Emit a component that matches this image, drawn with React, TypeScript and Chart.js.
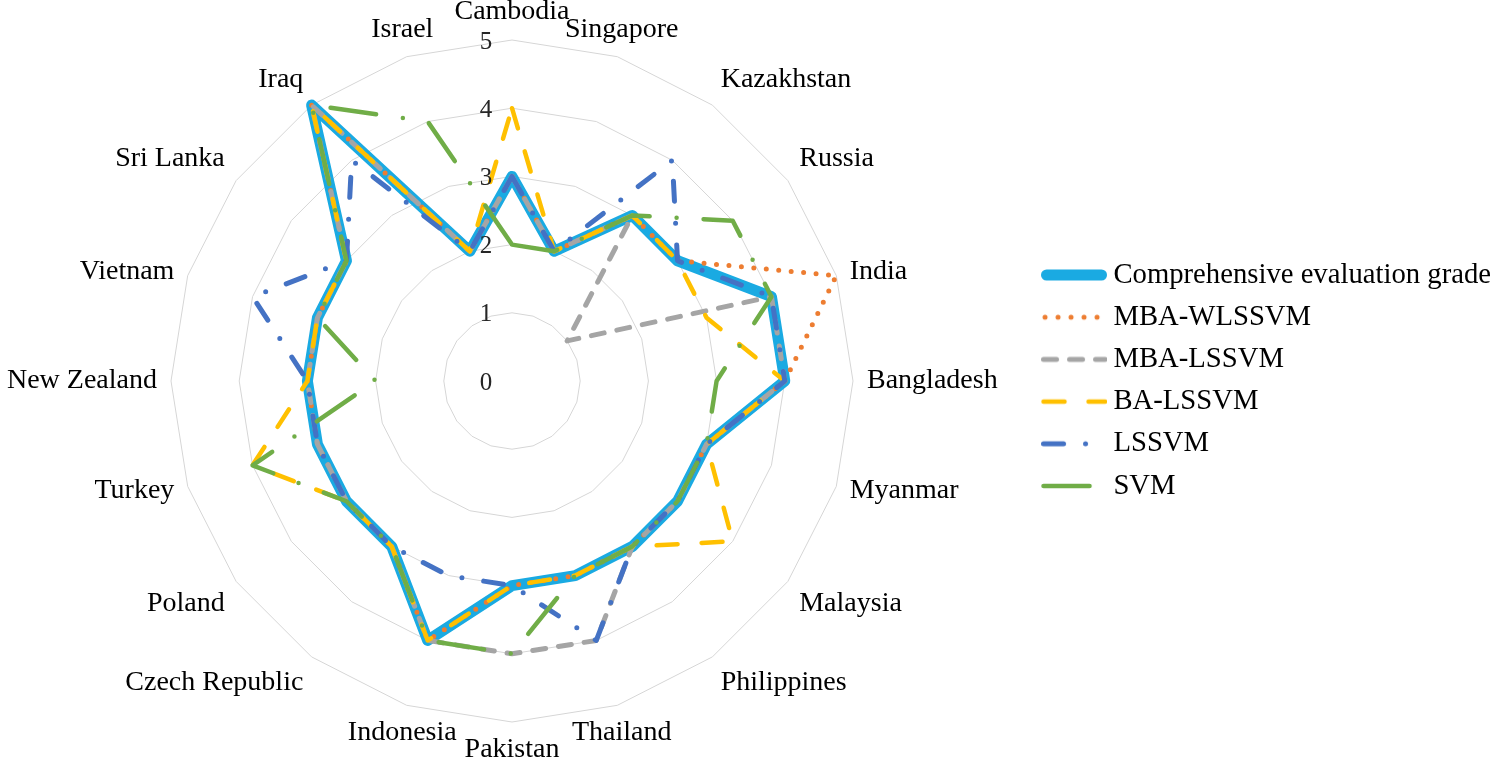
import React, { useEffect, useRef } from 'react';
import { Chart, registerables } from 'chart.js';

Chart.register(...registerables);

const categories = [
  'Cambodia', 'Singapore', 'Kazakhstan', 'Russia', 'India', 'Bangladesh', 'Myanmar',
  'Malaysia', 'Philippines', 'Thailand', 'Pakistan', 'Indonesia', 'Czech Republic',
  'Poland', 'Turkey', 'New Zealand', 'Vietnam', 'Sri Lanka', 'Iraq', 'Israel',
];

const comprehensiveGrade = [3, 2, 3, 3, 4, 4, 3, 3, 3, 3, 3, 4, 3, 3, 3, 3, 3, 3, 5, 2];
const mbaWlssvm = [3, 2, 3, 3, 5, 4, 3, 3, 3, 3, 3, 4, 3, 3, 3, 3, 3, 3, 5, 2];
const mbaLssvm = [3, 2, 3, 1, 4, 4, 3, 3, 3, 4, 4, 4, 3, 3, 3, 3, 3, 3, 5, 2];
const baLssvm = [4, 2, 3, 3, 3, 4, 3, 4, 3, 3, 3, 4, 3, 3, 4, 3, 3, 3, 5, 2];
const lssvm = [3, 2, 4, 3, 4, 4, 3, 3, 3, 4, 3, 3, 3, 3, 3, 3, 4, 3, 4, 2];
const svm = [2, 2, 3, 4, 4, 3, 3, 3, 3, 3, 4, 4, 3, 3, 4, 2, 3, 3, 5, 4];

const seriesNames = ['Comprehensive evaluation grade', 'MBA-WLSSVM', 'MBA-LSSVM', 'BA-LSSVM', 'LSSVM', 'SVM'];
const seriesValues = [comprehensiveGrade, mbaWlssvm, mbaLssvm, baLssvm, lssvm, svm];
const tickLabels = ['0', '1', '2', '3', '4', '5'];

const FONT = "'Liberation Serif', 'Times New Roman', serif";

const seriesStyles = [
  { color: '#1AAAE2', width: 11, dash: [] as number[], swatchDash: [] as number[], swatchStart: 5.5, swatchEnd: 60.5 },
  { color: '#ED7D31', width: 5, dash: [0, 12.5], swatchDash: [0, 13], swatchStart: 4, swatchEnd: 58 },
  { color: '#A5A5A5', width: 5, dash: [13, 13], swatchDash: [13, 13], swatchStart: 2.5, swatchEnd: 64 },
  { color: '#FFC000', width: 4.5, dash: [21, 24], swatchDash: [21, 24], swatchStart: 2.5, swatchEnd: 64 },
  { color: '#4472C4', width: 5, dash: [20, 22, 0, 22], swatchDash: [20, 22, 0, 22], swatchStart: 2.5, swatchEnd: 64 },
  { color: '#70AD47', width: 4.5, dash: [46, 27, 0, 27], swatchDash: [46, 27, 0, 27], swatchStart: 2.5, swatchEnd: 64 },
];

function makeSwatch(s: typeof seriesStyles[number]) {
  const c = document.createElement('canvas');
  c.width = 66;
  c.height = 14;
  const g = c.getContext('2d')!;
  g.strokeStyle = s.color;
  g.lineWidth = s.width;
  g.lineCap = 'round';
  g.setLineDash(s.swatchDash);
  g.beginPath();
  g.moveTo(s.swatchStart, 7);
  g.lineTo(s.swatchEnd, 7);
  g.stroke();
  return c;
}

const labelPlugin = {
  id: 'excelLabels',
  afterDraw(chart: any) {
    const scale = chart.scales.r;
    const ctx = chart.ctx as CanvasRenderingContext2D;
    ctx.save();
    ctx.fillStyle = '#000';
    ctx.font = `28px ${FONT}`;
    categories.forEach((label, i) => {
      const pos = scale.getPointPosition(i, scale.drawingArea + 14);
      const a = pos.angle + Math.PI / 2;
      const s = Math.sin(a);
      const c = Math.cos(a);
      ctx.textAlign = Math.abs(s) < 0.4 ? 'center' : s > 0 ? 'left' : 'right';
      ctx.textBaseline = Math.abs(c) < 0.4 ? 'middle' : c > 0 ? 'bottom' : 'top';
      ctx.fillText(label, pos.x, pos.y);
    });
    ctx.fillStyle = '#262626';
    ctx.font = `25px ${FONT}`;
    ctx.textAlign = 'center';
    ctx.textBaseline = 'middle';
    tickLabels.forEach((t) => {
      const d = scale.getDistanceFromCenterForValue(Number(t));
      ctx.fillText(t, scale.xCenter - 26, scale.yCenter - d + 2);
    });
    ctx.restore();
  },
};

export default function App() {
  const ref = useRef<HTMLCanvasElement>(null);
  useEffect(() => {
    if (!ref.current) return;
    const swatches = seriesStyles.map(makeSwatch);
    const chart = new Chart(ref.current, {
      type: 'radar',
      data: {
        labels: categories,
        datasets: seriesNames.map((name, i) => ({
          label: name,
          data: seriesValues[i],
          borderColor: seriesStyles[i].color,
          backgroundColor: seriesStyles[i].color,
          borderWidth: seriesStyles[i].width,
          borderDash: seriesStyles[i].dash,
          borderCapStyle: 'round',
          borderJoinStyle: 'round',
          pointRadius: 0,
          pointHoverRadius: 0,
          fill: false,
          tension: 0,
          order: seriesNames.length - i,
        })),
      },
      options: {
        responsive: false,
        animation: false,
        events: [],
        layout: { padding: { right: -6, bottom: 5 } },
        scales: {
          r: {
            min: 0,
            max: 5,
            beginAtZero: true,
            ticks: { display: false, stepSize: 1 },
            pointLabels: { display: false },
            angleLines: { display: false },
            grid: { color: '#d6d6d6', lineWidth: 1, circular: false },
            afterFit: (scale: any) => {
              scale.xCenter = 512;
              scale.yCenter = 381;
              scale.drawingArea = 341;
            },
          },
        },
        plugins: {
          tooltip: { enabled: false },
          legend: {
            position: 'right',
            align: 'center',
            labels: {
              usePointStyle: true,
              pointStyleWidth: 50,
              padding: 13.5,
              color: '#000',
              font: { family: FONT, size: 28.7 },
              generateLabels: () =>
                seriesNames.map((name, i) => ({
                  text: name,
                  fillStyle: seriesStyles[i].color,
                  strokeStyle: seriesStyles[i].color,
                  lineWidth: 1,
                  pointStyle: swatches[i],
                  hidden: false,
                  datasetIndex: i,
                  fontColor: '#000',
                })),
            },
          },
        },
      },
      plugins: [labelPlugin],
    } as any);
    return () => chart.destroy();
  }, []);
  return (
    <div style={{ position: 'absolute', left: 0, top: 0, width: 1495, height: 766, background: '#fff' }}>
      <canvas ref={ref} width={1495} height={766} style={{ display: 'block' }} />
    </div>
  );
}
